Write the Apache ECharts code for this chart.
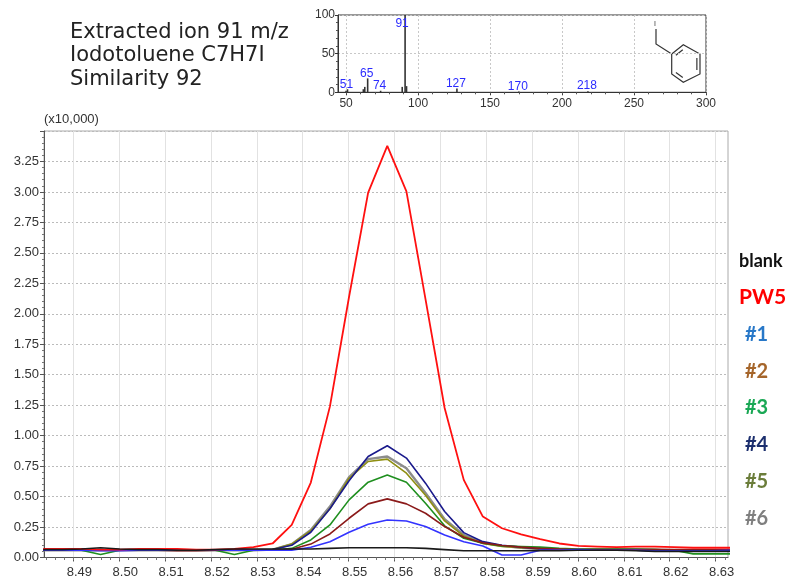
<!DOCTYPE html>
<html>
<head>
<meta charset="utf-8">
<script src="https://cdn.jsdelivr.net/npm/echarts@6/dist/echarts.min.js"></script>
<style>
  html, body { margin: 0; padding: 0; background: #fff; }
  #chart { width: 786px; height: 577px; }
</style>
</head>
<body>
<div id="chart"></div>
<script>
// retention time (min), one scan every 0.25 s
const times = [8.48343, 8.48760, 8.49176, 8.49593, 8.50010, 8.50426, 8.50843, 8.51260, 8.51676,
  8.52093, 8.52510, 8.52926, 8.53343, 8.53760, 8.54176, 8.54593, 8.55010, 8.55426, 8.55843,
  8.56260, 8.56676, 8.57093, 8.57510, 8.57926, 8.58343, 8.58760, 8.59176, 8.59593, 8.60010,
  8.60426, 8.60843, 8.61260, 8.61676, 8.62093, 8.62510, 8.62926, 8.63343];

// intensities (x10,000)
const blank = [0.065, 0.065, 0.07, 0.08, 0.07, 0.065, 0.065, 0.06, 0.06, 0.065, 0.07, 0.07,
  0.07, 0.07, 0.07, 0.075, 0.08, 0.08, 0.08, 0.08, 0.075, 0.065, 0.055, 0.055, 0.055,
  0.055, 0.055, 0.055, 0.06, 0.06, 0.06, 0.055, 0.05, 0.05, 0.05, 0.05, 0.05];
const pw5 = [0.07, 0.07, 0.07, 0.065, 0.065, 0.07, 0.07, 0.07, 0.065, 0.065, 0.07, 0.085,
  0.115, 0.267, 0.615, 1.24, 2.14, 2.995, 3.378, 3.005, 2.12, 1.227, 0.637, 0.336, 0.24,
  0.19, 0.15, 0.115, 0.095, 0.09, 0.085, 0.09, 0.09, 0.085, 0.08, 0.08, 0.08];
const s1 = [0.06, 0.06, 0.06, 0.055, 0.055, 0.06, 0.06, 0.06, 0.06, 0.06, 0.06, 0.06,
  0.06, 0.06, 0.084, 0.13, 0.207, 0.273, 0.308, 0.30, 0.254, 0.185, 0.13, 0.095, 0.02,
  0.02, 0.06, 0.06, 0.065, 0.06, 0.06, 0.06, 0.055, 0.055, 0.055, 0.055, 0.06];
const s2 = [0.06, 0.06, 0.06, 0.06, 0.06, 0.06, 0.06, 0.055, 0.055, 0.06, 0.06, 0.06,
  0.06, 0.067, 0.11, 0.193, 0.322, 0.44, 0.481, 0.44, 0.363, 0.254, 0.166, 0.12, 0.098,
  0.085, 0.075, 0.07, 0.065, 0.065, 0.065, 0.065, 0.065, 0.065, 0.065, 0.065, 0.065];
const s3 = [0.06, 0.06, 0.06, 0.025, 0.06, 0.06, 0.06, 0.06, 0.06, 0.06, 0.025, 0.06,
  0.06, 0.075, 0.144, 0.267, 0.473, 0.618, 0.678, 0.618, 0.445, 0.26, 0.158, 0.117, 0.095,
  0.09, 0.085, 0.075, 0.07, 0.07, 0.07, 0.07, 0.065, 0.06, 0.03, 0.03, 0.03];
const s4 = [0.06, 0.06, 0.065, 0.06, 0.06, 0.06, 0.06, 0.06, 0.06, 0.06, 0.06, 0.06,
  0.065, 0.10, 0.207, 0.40, 0.63, 0.829, 0.917, 0.816, 0.61, 0.377, 0.204, 0.13, 0.10,
  0.085, 0.07, 0.06, 0.06, 0.06, 0.06, 0.06, 0.055, 0.055, 0.055, 0.06, 0.06];
const s5 = [0.06, 0.06, 0.06, 0.06, 0.06, 0.06, 0.06, 0.06, 0.06, 0.06, 0.06, 0.06,
  0.065, 0.11, 0.22, 0.40, 0.65, 0.788, 0.807, 0.692, 0.51, 0.30, 0.175, 0.115, 0.09,
  0.08, 0.07, 0.065, 0.065, 0.065, 0.065, 0.065, 0.065, 0.06, 0.06, 0.06, 0.06];
const s6 = [0.06, 0.06, 0.06, 0.06, 0.06, 0.06, 0.06, 0.06, 0.06, 0.06, 0.06, 0.06,
  0.065, 0.11, 0.226, 0.418, 0.66, 0.807, 0.829, 0.733, 0.53, 0.314, 0.185, 0.12, 0.095,
  0.08, 0.07, 0.065, 0.065, 0.065, 0.065, 0.065, 0.065, 0.06, 0.06, 0.06, 0.06];

const xTicks = [8.49, 8.50, 8.51, 8.52, 8.53, 8.54, 8.55, 8.56, 8.57, 8.58, 8.59, 8.60, 8.61, 8.62, 8.63];

// mass spectrum inset
const specMz = [50, 51, 62, 63, 65, 74, 89, 91, 92, 127, 170, 218];
const specInt = [2, 4, 4, 7, 18, 2, 7, 100, 8, 5, 1, 1.5];
const specLabeled = [51, 65, 74, 91, 127, 170, 218];
const specTicks = [50, 100, 150, 200, 250, 300];

const chart = echarts.init(document.getElementById("chart"));

const FONT = "Liberation Sans";

// series drawn in this order (last on top)
const lines = [
  { name: "#6", data: s6, color: "#8c8c8c", width: 2.4 },
  { name: "#5", data: s5, color: "#8f8f12", width: 1.6 },
  { name: "#4", data: s4, color: "#1a1a8c", width: 1.6 },
  { name: "#3", data: s3, color: "#1f8f1f", width: 1.6 },
  { name: "#2", data: s2, color: "#8b1a1a", width: 1.6 },
  { name: "#1", data: s1, color: "#3333ff", width: 1.6 },
  { name: "PW5", data: pw5, color: "#ff1010", width: 1.8 },
  { name: "blank", data: blank, color: "#1a1a1a", width: 1.6 },
];

const legendItems = [
  { name: "blank", color: "#111111", size: 18, pad: 0 },
  { name: "PW5", color: "#ff0000", size: 21, pad: 0 },
  { name: "#1", color: "#2878c8", size: 20, pad: 6 },
  { name: "#2", color: "#a5652a", size: 20, pad: 6 },
  { name: "#3", color: "#1aa855", size: 20, pad: 6 },
  { name: "#4", color: "#1c2f6e", size: 20, pad: 6 },
  { name: "#5", color: "#6b7d3a", size: 20, pad: 6 },
  { name: "#6", color: "#7f7f7f", size: 20, pad: 6 },
];

const xMinor = [];
for (let v = 8.484; v < 8.6327; v += 0.002) xMinor.push(+v.toFixed(3));
const specMinor = [];
for (let v = 50; v <= 300; v += 10) specMinor.push(v);

// benzyl iodide sketch in the inset
const ring = [[671.7, 54], [683.3, 44.7], [700, 54], [700, 74], [683.3, 82.3], [671.7, 74]];
const cx = 685.8, cy = 63.8;
const inner = (a, b) => {
  const p = (pt, f) => [pt[0] + (cx - pt[0]) * f, pt[1] + (cy - pt[1]) * f];
  const a1 = p(a, 0.22), b1 = p(b, 0.22);
  return [[a1[0] + (b1[0] - a1[0]) * 0.12, a1[1] + (b1[1] - a1[1]) * 0.12],
          [b1[0] + (a1[0] - b1[0]) * 0.12, b1[1] + (a1[1] - b1[1]) * 0.12]];
};
const bondStyle = { stroke: "#333", lineWidth: 1.2, fill: null };
const doubleBond = (i, j) => {
  const s = inner(ring[i], ring[j]);
  return { type: "line", shape: { x1: s[0][0], y1: s[0][1], x2: s[1][0], y2: s[1][1] }, style: bondStyle };
};

chart.setOption({
  animation: false,
  backgroundColor: "#fff",
  title: {
    text: "Extracted ion 91 m/z\nIodotoluene C7H7I\nSimilarity 92",
    left: 70,
    top: 20.5,
    padding: 0,
    textStyle: {
      fontFamily: "DejaVu Sans",
      fontSize: 21,
      fontWeight: "normal",
      lineHeight: 23.5,
      color: "#222",
    },
  },
  legend: {
    orient: "vertical",
    left: 734,
    top: 249.7,
    padding: 0,
    itemGap: 14.8,
    itemWidth: 0,
    itemHeight: 22,
    icon: "rect",
    selectedMode: false,
    itemStyle: { opacity: 0 },
    lineStyle: { opacity: 0 },
    data: legendItems.map((it) => ({
      name: it.name,
      textStyle: {
        color: it.color,
        fontSize: it.size,
        fontWeight: "bold",
        fontFamily: "Lato",
        lineHeight: 22,
        padding: [0, 0, 0, it.pad],
      },
    })),
  },
  grid: [
    { left: 44, top: 131, right: 58, bottom: 19.5, show: true, borderColor: "#aaa", borderWidth: 1, outerBoundsMode: "none" },
    { left: 338, top: 15, width: 368, height: 77.3, show: true, borderColor: "#333", borderWidth: 1, outerBoundsMode: "none" },
  ],
  xAxis: [
    {
      type: "value", gridIndex: 0, position: "bottom", min: 8.4836, max: 8.6327,
      axisLine: { show: true, onZero: false, lineStyle: { color: "#555" } },
      axisTick: { show: true, customValues: xTicks, length: 4, lineStyle: { color: "#555" } },
      axisLabel: {
        customValues: xTicks, formatter: (v) => v.toFixed(2), fontSize: 13, color: "#333",
        fontFamily: FONT, margin: 8, padding: [0, 0, 0, 12],
      },
      splitLine: { show: true, lineStyle: { color: "#e2e2e2", width: 1 } },
    },
    {
      type: "value", gridIndex: 0, position: "bottom", min: 8.4836, max: 8.6327,
      axisLine: { show: false },
      axisTick: { show: true, customValues: xMinor, length: 2.5, lineStyle: { color: "#777" } },
      axisLabel: { show: false },
      splitLine: { show: false },
    },
    {
      type: "value", gridIndex: 1, position: "bottom", min: 44.4, max: 300,
      axisLine: { show: true, onZero: false, lineStyle: { color: "#333" } },
      axisTick: { show: true, customValues: specTicks, length: 3, lineStyle: { color: "#333" } },
      axisLabel: { customValues: specTicks, fontSize: 12, color: "#333", fontFamily: FONT, margin: 5 },
      splitLine: { show: true, lineStyle: { color: "#c8c8c8", type: [2, 2] } },
    },
    {
      type: "value", gridIndex: 1, position: "bottom", min: 44.4, max: 300,
      axisLine: { show: false },
      axisTick: { show: true, customValues: specMinor, length: 2, lineStyle: { color: "#555" } },
      axisLabel: { show: false },
      splitLine: { show: false },
    },
  ],
  yAxis: [
    {
      type: "value", gridIndex: 0, min: 0, max: 3.5, interval: 0.25,
      name: "(x10,000)", nameLocation: "end", nameGap: 5,
      nameTextStyle: { align: "left", fontSize: 13, color: "#333", fontFamily: FONT },
      axisLine: { show: true, lineStyle: { color: "#555" } },
      axisTick: { show: true, length: 4, lineStyle: { color: "#555" } },
      minorTick: { show: true, splitNumber: 5, length: 2, lineStyle: { color: "#777" } },
      axisLabel: {
        formatter: (v) => (v >= 3.5 ? "" : v.toFixed(2)),
        fontSize: 13, color: "#333", fontFamily: FONT, margin: 5,
      },
      splitLine: { show: true, lineStyle: { color: "#bbb", type: [2, 2] } },
    },
    {
      type: "value", gridIndex: 1, min: 0, max: 100, interval: 50,
      axisLine: { show: true, lineStyle: { color: "#333" } },
      axisTick: { show: true, length: 3, lineStyle: { color: "#333" } },
      minorTick: { show: true, splitNumber: 5, length: 2, lineStyle: { color: "#555" } },
      axisLabel: { fontSize: 12, color: "#333", fontFamily: FONT, margin: 3 },
      splitLine: { show: true, lineStyle: { color: "#c8c8c8", type: [2, 2] } },
    },
  ],
  series: [
    ...lines.map((l) => ({
      type: "line",
      name: l.name,
      xAxisIndex: 0,
      yAxisIndex: 0,
      showSymbol: false,
      symbol: "none",
      data: times.map((t, i) => [t, l.data[i]]),
      lineStyle: { color: l.color, width: l.width },
      itemStyle: { color: l.color },
      emphasis: { disabled: true },
    })),
    {
      type: "bar",
      name: "spectrum",
      xAxisIndex: 2,
      yAxisIndex: 1,
      barWidth: 1.6,
      itemStyle: { color: "#333" },
      data: specMz.map((m, i) => ({
        value: [m, specInt[i]],
        label: {
          show: specLabeled.includes(m),
          position: m === 91 ? "insideTop" : "top",
          distance: m === 91 ? 3 : 0,
          offset: m === 91 ? [-3, 0] : [-1, 1],
          color: "#2b2bff",
          fontSize: 12,
          fontFamily: FONT,
          formatter: (p) => p.value[0],
        },
      })),
    },
  ],
  graphic: [
    { type: "text", left: 654, top: 21, style: { text: "I", fontSize: 7, fill: "#333", fontFamily: FONT } },
    { type: "polyline", shape: { points: [[656, 29], [656, 44], [671.7, 54]] }, style: bondStyle },
    { type: "polygon", shape: { points: ring }, style: bondStyle },
    doubleBond(0, 1),
    doubleBond(2, 3),
    doubleBond(4, 5),
  ],
});
</script>
</body>
</html>
